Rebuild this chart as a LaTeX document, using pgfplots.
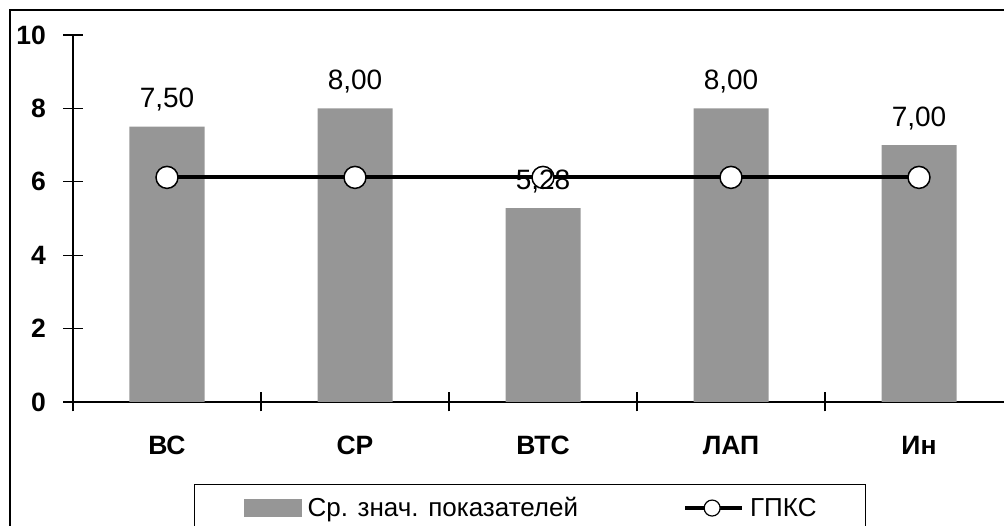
\documentclass[border=0pt]{standalone}
\usepackage{pgfplots}
\pgfplotsset{compat=1.18}
\usepackage{fontspec}
\setmainfont{Liberation Sans}
\definecolor{barGray}{RGB}{150,150,150}

\begin{document}
\begin{tikzpicture}
\useasboundingbox (0pt,0pt) rectangle (1004pt,526pt);
\clip (0pt,0pt) rectangle (1004pt,526pt);
% outer chart frame (runs off the right and bottom edges)
\draw[line width=2pt] (10pt,-60pt) rectangle (1100pt,516pt);
\begin{axis}[
  at={(73pt,124pt)}, anchor=south west,
  width=940pt, height=367pt, scale only axis,
  xmin=-0.5, xmax=4.5, ymin=0, ymax=10,
  axis x line=bottom, axis y line=left,
  axis line style={-, line width=1.3pt},
  xtick={0,...,4}, xticklabels={ВС,СР,ВТС,ЛАП,Ин},
  major x tick style={draw=none},
  minor xtick={-0.5,0.5,1.5,2.5,3.5,4.5},
  ytick={0,2,...,10},
  tick align=center, major tick length=19pt, minor tick length=19pt,
  tick style={black, line width=1.3pt},
  /pgf/number format/assume math mode=true,
  ticklabel style={font=\fontsize{26.5}{31}\selectfont\bfseries},
  xticklabel style={yshift=-21pt},
  yticklabel style={xshift=-14pt},
  legend columns=2,
  legend style={at={(0.12872,-0.22343)}, anchor=north west,
    draw=black, line width=1.3pt, inner xsep=49pt, inner ysep=13pt,
    font=\fontsize{26}{31}\selectfont, nodes={inner sep=0pt},
    /tikz/every odd column/.append style={column sep=6pt},
    /tikz/every even column/.append style={column sep=105pt}},
]
\addplot[ybar, bar width=75pt, fill=barGray, draw=none,
  legend image code/.code={\fill[barGray] (2pt,-9pt) rectangle (60pt,9pt);}]
  coordinates {(0,7.50) (1,8.00) (2,5.28) (3,8.00) (4,7.00)};
\addlegendentry{Ср. знач. показателей}

\addplot[black, line width=4pt, mark=*, mark size=11pt,
  mark options={fill=white, draw=black, line width=1.5pt},
  legend image code/.code={
    \draw[black, line width=4pt] (0pt,0pt) -- (57pt,0pt);
    \draw[black, fill=white, line width=1.2pt] (27pt,0pt) circle (8pt);}]
  coordinates {(0,6.12) (1,6.12) (2,6.12) (3,6.12) (4,6.12)};
\addlegendentry{ГПКС}

% value labels on top of everything
\addplot[ybar, bar width=75pt, draw=none, fill=none, forget plot,
  nodes near coords={\pgfmathprintnumber[fixed,fixed zerofill,precision=2,use comma,assume math mode=true]{\pgfplotspointmeta}},
  every node near coord/.append style={anchor=base, yshift=19pt,
    font=\fontsize{28}{33}\selectfont, text=black}]
  coordinates {(0,7.50) (1,8.00) (2,5.28) (3,8.00) (4,7.00)};
\end{axis}
\end{tikzpicture}
\end{document}
